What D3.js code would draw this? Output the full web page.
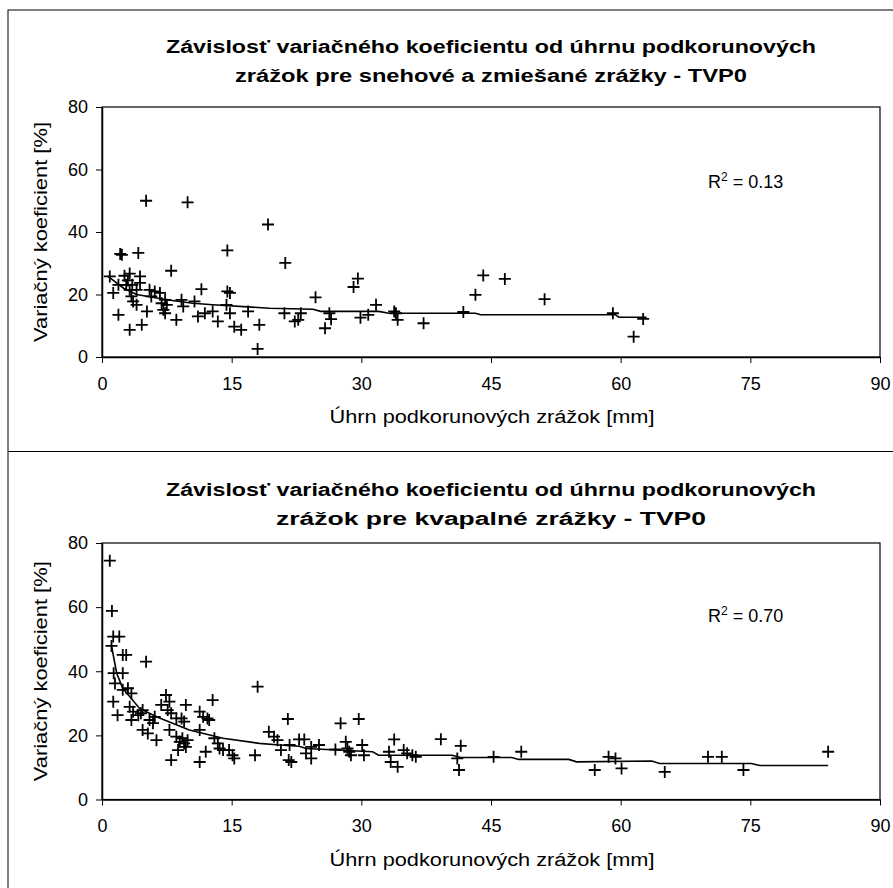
<!DOCTYPE html>
<html>
<head>
<meta charset="utf-8">
<script src="https://d3js.org/d3.v7.min.js"></script>
<style>
	body { margin: 0; background: #fff; }
	text { font-family: "Liberation Sans", Arial, sans-serif; fill: #000; }
</style>
</head>
<body>
<svg width="893" height="888"></svg>
<script>
// snehove a zmiesane zrazky
var snowX = [5.1, 9.9, 19.2, 14.5, 2.1, 2.3, 4.2, 21.2, 8.0, 0.9, 3.2, 4.4, 2.8, 3.5, 4.4, 3.2, 4.0, 1.9, 1.3, 3.4,
	3.6, 4.0, 5.5, 6.1, 5.7, 6.7, 7.3, 6.9, 7.5, 7.1, 7.3, 5.2, 1.9, 3.2, 4.6, 8.6, 9.2, 9.4, 10.7, 11.5,
	11.1, 11.9, 12.8, 13.4, 14.5, 14.8, 14.4, 14.8, 15.3, 16.1, 16.9, 18.2, 18.0, 21.1, 22.3, 22.7, 23.0, 24.7, 25.8, 26.3,
	26.5, 29.1, 29.6, 29.9, 30.8, 31.7, 34.0, 34.2, 33.8, 37.2, 41.8, 43.2, 44.1, 46.6, 51.2, 59.1, 61.5, 62.6, 3.0, 2.6];
var snowY = [50, 49.5, 42.4, 34.1, 33, 32.7, 33.3, 30.1, 27.6, 25.8, 26.7, 25.8, 23.1, 23.1, 23.7, 21.5, 21.5, 23.1, 20.5, 19.4,
	17.8, 16.7, 21.5, 21, 19.4, 20.5, 18.3, 17.2, 16.7, 15.1, 14, 14.6, 13.5, 8.7, 10.3, 11.9, 18.3, 16.2, 17.8, 21.7,
	13, 14, 14.6, 11.4, 21, 20.5, 16.7, 14, 9.7, 8.7, 14.6, 10.3, 2.6, 14, 11.4, 11.9, 14, 19.1, 9.2, 14,
	12.1, 22.4, 25.1, 12.6, 13.5, 16.7, 14, 11.9, 14.6, 10.8, 14.4, 19.9, 26.1, 25, 18.5, 14, 6.5, 12.2, 24.5, 26];
var snowTrendX = [0.7, 2.5, 4, 7.5, 10.5, 12.8, 19.4, 24.4, 25.3, 32, 33.2, 43.2, 43.8, 59.4, 59.8, 63];
var snowTrendY = [25.8, 22, 20, 18.3, 17.2, 16.7, 15.6, 15.3, 14.6, 14.6, 14, 14, 13.5, 13.5, 12.7, 12.7];

// kvapalne zrazky
var rainX = [0.9, 1.15, 1.3, 2.0, 1.1, 2.4, 2.8, 5.1, 1.35, 2.4, 1.5, 2.4, 3.0, 3.4, 1.3, 1.8, 3.2, 3.6, 3.4, 4.2,
	4.5, 4.7, 4.7, 5.3, 5.5, 5.9, 6.1, 6.3, 6.85, 7.4, 7.8, 7.6, 8.0, 7.8, 8.0, 8.6, 9.2, 9.5, 9.7, 8.6,
	9.0, 9.3, 9.5, 9.7, 9.9, 8.8, 11.3, 11.7, 12.2, 12.4, 12.8, 11.3, 12.0, 11.3, 13.0, 13.4, 13.6, 14.0, 14.7, 15.1,
	15.3, 17.7, 18.0, 19.3, 19.9, 20.3, 20.7, 21.5, 21.6, 21.7, 21.9, 22.8, 23.4, 23.6, 24.2, 24.2, 25.1, 27.0, 27.6, 29.7,
	28.2, 28.4, 28.6, 28.8, 30.1, 30.3, 33.2, 33.8, 33.4, 34.2, 34.9, 35.3, 35.9, 36.3, 39.2, 41.5, 41.1, 41.3, 45.3, 48.5,
	57.0, 58.6, 59.4, 60.1, 65.1, 70.1, 71.7, 74.2, 84.0];
var rainY = [74.5, 58.8, 50.8, 50.8, 47.9, 45.1, 45.1, 43, 39.4, 39.4, 36.2, 34.2, 34.7, 33.1, 30.5, 26.3, 28.9, 27.4, 24.8, 26.3,
	26.9, 27.9, 21.7, 20.6, 24.8, 23.8, 25.8, 18.5, 29.5, 32.6, 30.5, 27.9, 26.9, 21.7, 12.3, 25.3, 25.3, 24.3, 29.5, 19.6,
	18, 19.1, 17.5, 16.4, 18.5, 15.4, 27.4, 25.8, 25.3, 24.8, 31, 21.7, 14.9, 11.7, 19.1, 17.5, 15.9, 15.4, 15.4, 13.8,
	12.8, 13.8, 35.2, 21.1, 19.6, 18.5, 15.4, 25.1, 12.3, 17, 11.7, 18.75, 18.75, 14.4, 16.4, 12.8, 17, 15.6, 23.75, 25.1,
	18, 15.9, 14.9, 13.8, 17, 13.8, 14.9, 18.75, 11.7, 10.2, 15.4, 14.4, 13.8, 13.3, 18.8, 16.75, 12.8, 9.2, 13.3, 14.9,
	9.2, 13.3, 12.8, 9.7, 8.6, 13.3, 13.3, 9.2, 14.9];
var rainTrendX = [1.1, 1.7, 2.4, 4.35, 6.3, 10.1, 14, 18.2, 20.5, 22.8, 23.6, 31.3, 32, 40.5, 41.5, 47.4, 48.2, 54, 54.9, 63.6, 64.5, 75.1, 76.1, 84];
var rainTrendY = [47.9, 39.4, 34.7, 28.4, 25.8, 21.7, 19.1, 17.5, 17, 16.6, 15.9, 14.9, 13.8, 13.8, 13.1, 13.1, 12.5, 12.5, 11.75, 12, 11.25, 11.25, 10.6, 10.6];

var xTicks = [0, 15, 30, 45, 60, 75, 90];
var yTicks = [0, 20, 40, 60, 80];

var svg = d3.select("svg");

// outer frame and divider
svg.append("rect").attr("x", 8).attr("y", 10).attr("width", 900).attr("height", 900)
	.attr("fill", "none").attr("stroke", "#000").attr("stroke-width", 1);
svg.append("line").attr("x1", 8).attr("x2", 893).attr("y1", 451.5).attr("y2", 451.5)
	.attr("stroke", "#000").attr("stroke-width", 1.2);

function panel(opt) {
	var x = d3.scaleLinear().domain([0, 90]).range([102, 880]);
	var y = d3.scaleLinear().domain([0, 80]).range([opt.bottom, opt.top]);
	var g = svg.append("g");

	g.append("rect").attr("x", 102).attr("y", opt.top).attr("width", 778).attr("height", opt.bottom - opt.top)
		.attr("fill", "none").attr("stroke", "#000").attr("stroke-width", 1.2);

	var xAxis = g.append("g").attr("transform", "translate(0," + opt.bottom + ")")
		.call(d3.axisBottom(x).tickValues(xTicks).tickSizeInner(6).tickSizeOuter(0).tickPadding(14));
	var yAxis = g.append("g").attr("transform", "translate(102,0)")
		.call(d3.axisLeft(y).tickValues(yTicks).tickSizeInner(6).tickSizeOuter(0).tickPadding(8));
	[xAxis, yAxis].forEach(function(a) {
		a.select(".domain").attr("stroke", "#000").attr("stroke-width", 1.5);
		a.selectAll(".tick line").attr("stroke", "#000").attr("stroke-width", 1);
		a.selectAll(".tick text").style("font-size", "18px").attr("fill", "#000");
	});

	// trend
	var line = d3.line().x(function(d) { return x(d[0]); }).y(function(d) { return y(d[1]); });
	g.append("path").datum(d3.zip(opt.tx, opt.ty))
		.attr("fill", "none").attr("stroke", "#000").attr("stroke-width", 1.6).attr("d", line);

	// points as plus marks
	g.selectAll(".pt").data(d3.zip(opt.px, opt.py)).enter().append("path")
		.attr("transform", function(d) { return "translate(" + x(d[0]) + "," + y(d[1]) + ")"; })
		.attr("d", "M-6,0H6M0,-6V6")
		.attr("stroke", "#000").attr("stroke-width", 1.8).attr("fill", "none");

	// titles
	g.append("text").attr("x", 491).attr("y", opt.titleY).attr("text-anchor", "middle")
		.attr("textLength", 650).attr("lengthAdjust", "spacingAndGlyphs")
		.style("font-size", "18px").style("font-weight", "bold").text(opt.title1);
	g.append("text").attr("x", 491).attr("y", opt.titleY + 29).attr("text-anchor", "middle")
		.attr("textLength", opt.title2Len).attr("lengthAdjust", "spacingAndGlyphs")
		.style("font-size", "18px").style("font-weight", "bold").text(opt.title2);

	g.append("text").attr("x", 492).attr("y", opt.bottom + 66).attr("text-anchor", "middle")
		.attr("textLength", 325).attr("lengthAdjust", "spacingAndGlyphs")
		.style("font-size", "18px").text("Úhrn podkorunových zrážok [mm]");
	g.append("text").attr("transform", "translate(47," + ((opt.top + opt.bottom) / 2) + ") rotate(-90)")
		.attr("text-anchor", "middle").attr("textLength", 220).attr("lengthAdjust", "spacingAndGlyphs")
		.style("font-size", "19px").text("Variačný koeficient [%]");

	var r = g.append("text").attr("x", 708).attr("y", opt.rY).style("font-size", "18px");
	r.append("tspan").text("R");
	r.append("tspan").attr("dy", -7).style("font-size", "12px").text("2");
	r.append("tspan").attr("dy", 7).text(" = " + opt.r2);
}

panel({
	top: 107, bottom: 357, titleY: 53,
	title1: "Závislosť variačného koeficientu od úhrnu podkorunových",
	title2: "zrážok pre snehové a zmiešané zrážky - TVP0", title2Len: 512,
	px: snowX, py: snowY, tx: snowTrendX, ty: snowTrendY, rY: 188, r2: "0.13"
});
panel({
	top: 543, bottom: 799.5, titleY: 496,
	title1: "Závislosť variačného koeficientu od úhrnu podkorunových",
	title2: "zrážok pre kvapalné zrážky - TVP0", title2Len: 430,
	px: rainX, py: rainY, tx: rainTrendX, ty: rainTrendY, rY: 622, r2: "0.70"
});
</script>
</body>
</html>
